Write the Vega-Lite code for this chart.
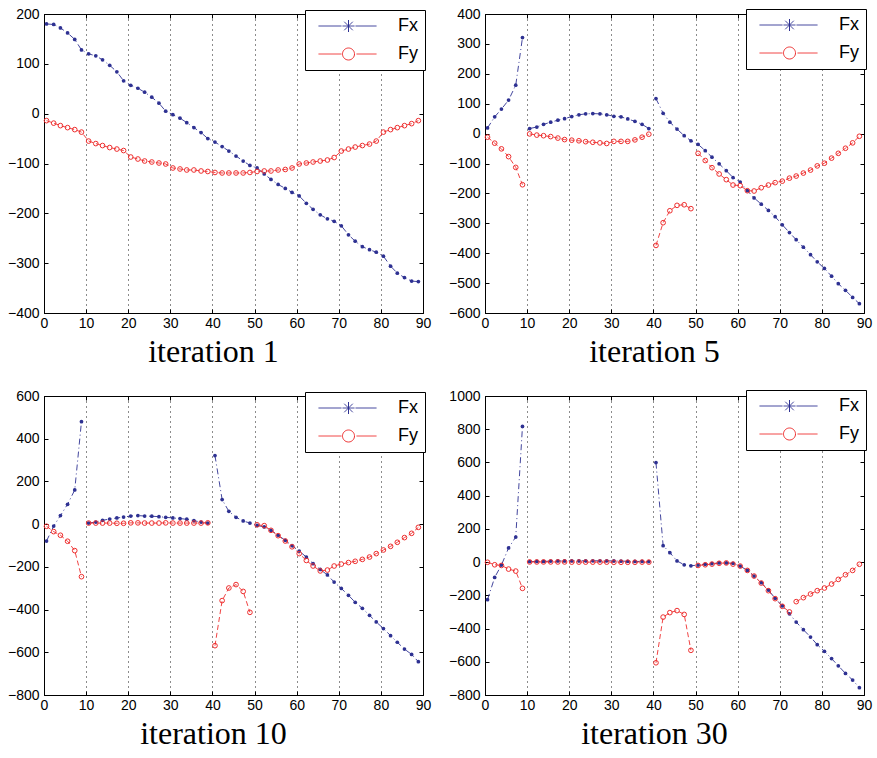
{
"$schema":"https://vega.github.io/schema/vega-lite/v6.json",
"padding":{"left":6,"top":6,"right":5,"bottom":5},
"spacing":{"column":15,"row":19},
"columns":2,
"config":{
"view":{"stroke":"black","strokeWidth":1},
"font":"Liberation Sans",
"axis":{"labelFont":"Liberation Sans","labelFontSize":14,"labelColor":"black","domainColor":"black","tickColor":"black","tickSize":-4,"labelPadding":9,"grid":false,"labelFlush":false,"labelOverlap":false},
"axisX":{"labelPadding":7},
"title":{"font":"Liberation Serif","fontSize":32,"fontWeight":"normal","orient":"bottom","anchor":"middle","dx":-20,"offset":7,"color":"black"}
},
"resolve":{"scale":{"color":"independent"},"legend":{"color":"independent"}},
"datasets":{
"it1":[
{"x":0.6,"y":180,"s":"Fx","g":1},{"x":2.3,"y":179,"s":"Fx","g":1},{"x":3.9,"y":172,"s":"Fx","g":1},{"x":5.6,"y":162,"s":"Fx","g":1},{"x":7.3,"y":149,"s":"Fx","g":1},{"x":8.9,"y":128,"s":"Fx","g":1},{"x":10.6,"y":120,"s":"Fx","g":1},{"x":12.3,"y":116,"s":"Fx","g":1},{"x":13.9,"y":108,"s":"Fx","g":1},{"x":15.6,"y":97,"s":"Fx","g":1},{"x":17.3,"y":84,"s":"Fx","g":1},{"x":18.9,"y":66,"s":"Fx","g":1},{"x":20.6,"y":57,"s":"Fx","g":1},{"x":22.3,"y":51,"s":"Fx","g":1},{"x":23.9,"y":43,"s":"Fx","g":1},{"x":25.6,"y":33,"s":"Fx","g":1},{"x":27.3,"y":21,"s":"Fx","g":1},{"x":28.9,"y":5,"s":"Fx","g":1},{"x":30.6,"y":-2,"s":"Fx","g":1},{"x":32.3,"y":-9,"s":"Fx","g":1},{"x":33.9,"y":-18,"s":"Fx","g":1},{"x":35.6,"y":-28,"s":"Fx","g":1},{"x":37.3,"y":-38,"s":"Fx","g":1},{"x":38.9,"y":-50,"s":"Fx","g":1},{"x":40.6,"y":-57,"s":"Fx","g":1},{"x":42.3,"y":-66,"s":"Fx","g":1},{"x":43.9,"y":-75,"s":"Fx","g":1},{"x":45.6,"y":-85,"s":"Fx","g":1},{"x":47.3,"y":-95,"s":"Fx","g":1},{"x":48.9,"y":-104,"s":"Fx","g":1},{"x":50.6,"y":-109,"s":"Fx","g":1},{"x":52.3,"y":-121,"s":"Fx","g":1},{"x":53.9,"y":-132,"s":"Fx","g":1},{"x":55.6,"y":-142,"s":"Fx","g":1},{"x":57.3,"y":-150,"s":"Fx","g":1},{"x":58.9,"y":-158,"s":"Fx","g":1},{"x":60.6,"y":-165,"s":"Fx","g":1},{"x":62.3,"y":-180,"s":"Fx","g":1},{"x":63.9,"y":-192,"s":"Fx","g":1},{"x":65.6,"y":-203,"s":"Fx","g":1},{"x":67.3,"y":-211,"s":"Fx","g":1},{"x":68.9,"y":-216,"s":"Fx","g":1},{"x":70.6,"y":-225,"s":"Fx","g":1},{"x":72.3,"y":-243,"s":"Fx","g":1},{"x":73.9,"y":-256,"s":"Fx","g":1},{"x":75.6,"y":-267,"s":"Fx","g":1},{"x":77.3,"y":-273,"s":"Fx","g":1},{"x":78.9,"y":-278,"s":"Fx","g":1},{"x":80.6,"y":-286,"s":"Fx","g":1},{"x":82.3,"y":-306,"s":"Fx","g":1},{"x":83.9,"y":-320,"s":"Fx","g":1},{"x":85.6,"y":-329,"s":"Fx","g":1},{"x":87.3,"y":-336,"s":"Fx","g":1},{"x":88.9,"y":-337,"s":"Fx","g":1},
{"x":0.6,"y":-14,"s":"Fy","g":1},{"x":2.3,"y":-19,"s":"Fy","g":1},{"x":3.9,"y":-24,"s":"Fy","g":1},{"x":5.6,"y":-28,"s":"Fy","g":1},{"x":7.3,"y":-32,"s":"Fy","g":1},{"x":8.9,"y":-37,"s":"Fy","g":1},{"x":10.6,"y":-55,"s":"Fy","g":1},{"x":12.3,"y":-60,"s":"Fy","g":1},{"x":13.9,"y":-64,"s":"Fy","g":1},{"x":15.6,"y":-68,"s":"Fy","g":1},{"x":17.3,"y":-71,"s":"Fy","g":1},{"x":18.9,"y":-74,"s":"Fy","g":1},{"x":20.6,"y":-87,"s":"Fy","g":1},{"x":22.3,"y":-91,"s":"Fy","g":1},{"x":23.9,"y":-95,"s":"Fy","g":1},{"x":25.6,"y":-97,"s":"Fy","g":1},{"x":27.3,"y":-99,"s":"Fy","g":1},{"x":28.9,"y":-101,"s":"Fy","g":1},{"x":30.6,"y":-109,"s":"Fy","g":1},{"x":32.3,"y":-111,"s":"Fy","g":1},{"x":33.9,"y":-113,"s":"Fy","g":1},{"x":35.6,"y":-113,"s":"Fy","g":1},{"x":37.3,"y":-115,"s":"Fy","g":1},{"x":38.9,"y":-116,"s":"Fy","g":1},{"x":40.6,"y":-118,"s":"Fy","g":1},{"x":42.3,"y":-119,"s":"Fy","g":1},{"x":43.9,"y":-119,"s":"Fy","g":1},{"x":45.6,"y":-119,"s":"Fy","g":1},{"x":47.3,"y":-119,"s":"Fy","g":1},{"x":48.9,"y":-118,"s":"Fy","g":1},{"x":50.6,"y":-116,"s":"Fy","g":1},{"x":52.3,"y":-115,"s":"Fy","g":1},{"x":53.9,"y":-115,"s":"Fy","g":1},{"x":55.6,"y":-113,"s":"Fy","g":1},{"x":57.3,"y":-112,"s":"Fy","g":1},{"x":58.9,"y":-109,"s":"Fy","g":1},{"x":60.6,"y":-101,"s":"Fy","g":1},{"x":62.3,"y":-99,"s":"Fy","g":1},{"x":63.9,"y":-97,"s":"Fy","g":1},{"x":65.6,"y":-95,"s":"Fy","g":1},{"x":67.3,"y":-93,"s":"Fy","g":1},{"x":68.9,"y":-88,"s":"Fy","g":1},{"x":70.6,"y":-75,"s":"Fy","g":1},{"x":72.3,"y":-71,"s":"Fy","g":1},{"x":73.9,"y":-67,"s":"Fy","g":1},{"x":75.6,"y":-64,"s":"Fy","g":1},{"x":77.3,"y":-61,"s":"Fy","g":1},{"x":78.9,"y":-55,"s":"Fy","g":1},{"x":80.6,"y":-37,"s":"Fy","g":1},{"x":82.3,"y":-32,"s":"Fy","g":1},{"x":83.9,"y":-28,"s":"Fy","g":1},{"x":85.6,"y":-24,"s":"Fy","g":1},{"x":87.3,"y":-20,"s":"Fy","g":1},{"x":88.9,"y":-14,"s":"Fy","g":1}
],
"it5":[
{"x":0.6,"y":19,"s":"Fx","g":1},{"x":2.3,"y":56,"s":"Fx","g":1},{"x":3.9,"y":82,"s":"Fx","g":1},{"x":5.6,"y":112,"s":"Fx","g":1},{"x":7.3,"y":162,"s":"Fx","g":1},{"x":8.9,"y":321,"s":"Fx","g":1},
{"x":10.6,"y":17,"s":"Fx","g":2},{"x":12.3,"y":22,"s":"Fx","g":2},{"x":13.9,"y":31,"s":"Fx","g":2},{"x":15.6,"y":38,"s":"Fx","g":2},{"x":17.3,"y":45,"s":"Fx","g":2},{"x":18.9,"y":50,"s":"Fx","g":2},{"x":20.6,"y":57,"s":"Fx","g":2},{"x":22.3,"y":63,"s":"Fx","g":2},{"x":23.9,"y":66,"s":"Fx","g":2},{"x":25.6,"y":67,"s":"Fx","g":2},{"x":27.3,"y":66,"s":"Fx","g":2},{"x":28.9,"y":63,"s":"Fx","g":2},{"x":30.6,"y":58,"s":"Fx","g":2},{"x":32.3,"y":56,"s":"Fx","g":2},{"x":33.9,"y":49,"s":"Fx","g":2},{"x":35.6,"y":41,"s":"Fx","g":2},{"x":37.3,"y":31,"s":"Fx","g":2},{"x":38.9,"y":17,"s":"Fx","g":2},
{"x":40.6,"y":117,"s":"Fx","g":3},{"x":42.3,"y":68,"s":"Fx","g":3},{"x":43.9,"y":38,"s":"Fx","g":3},{"x":45.6,"y":15,"s":"Fx","g":3},{"x":47.3,"y":-7,"s":"Fx","g":3},{"x":48.9,"y":-24,"s":"Fx","g":3},{"x":50.6,"y":-36,"s":"Fx","g":3},{"x":52.3,"y":-57,"s":"Fx","g":3},{"x":53.9,"y":-79,"s":"Fx","g":3},{"x":55.6,"y":-101,"s":"Fx","g":3},{"x":57.3,"y":-124,"s":"Fx","g":3},{"x":58.9,"y":-147,"s":"Fx","g":3},{"x":60.6,"y":-162,"s":"Fx","g":3},{"x":62.3,"y":-191,"s":"Fx","g":3},{"x":63.9,"y":-215,"s":"Fx","g":3},{"x":65.6,"y":-236,"s":"Fx","g":3},{"x":67.3,"y":-257,"s":"Fx","g":3},{"x":68.9,"y":-278,"s":"Fx","g":3},{"x":70.6,"y":-305,"s":"Fx","g":3},{"x":72.3,"y":-331,"s":"Fx","g":3},{"x":73.9,"y":-355,"s":"Fx","g":3},{"x":75.6,"y":-380,"s":"Fx","g":3},{"x":77.3,"y":-405,"s":"Fx","g":3},{"x":78.9,"y":-429,"s":"Fx","g":3},{"x":80.6,"y":-451,"s":"Fx","g":3},{"x":82.3,"y":-477,"s":"Fx","g":3},{"x":83.9,"y":-502,"s":"Fx","g":3},{"x":85.6,"y":-524,"s":"Fx","g":3},{"x":87.3,"y":-548,"s":"Fx","g":3},{"x":88.9,"y":-569,"s":"Fx","g":3},
{"x":0.6,"y":-12,"s":"Fy","g":1},{"x":2.3,"y":-32,"s":"Fy","g":1},{"x":3.9,"y":-51,"s":"Fy","g":1},{"x":5.6,"y":-77,"s":"Fy","g":1},{"x":7.3,"y":-113,"s":"Fy","g":1},{"x":8.9,"y":-171,"s":"Fy","g":1},
{"x":10.6,"y":-1,"s":"Fy","g":2},{"x":12.3,"y":-5,"s":"Fy","g":2},{"x":13.9,"y":-7,"s":"Fy","g":2},{"x":15.6,"y":-10,"s":"Fy","g":2},{"x":17.3,"y":-15,"s":"Fy","g":2},{"x":18.9,"y":-20,"s":"Fy","g":2},{"x":20.6,"y":-22,"s":"Fy","g":2},{"x":22.3,"y":-24,"s":"Fy","g":2},{"x":23.9,"y":-27,"s":"Fy","g":2},{"x":25.6,"y":-29,"s":"Fy","g":2},{"x":27.3,"y":-31,"s":"Fy","g":2},{"x":28.9,"y":-33,"s":"Fy","g":2},{"x":30.6,"y":-26,"s":"Fy","g":2},{"x":32.3,"y":-26,"s":"Fy","g":2},{"x":33.9,"y":-26,"s":"Fy","g":2},{"x":35.6,"y":-21,"s":"Fy","g":2},{"x":37.3,"y":-12,"s":"Fy","g":2},{"x":38.9,"y":-2,"s":"Fy","g":2},
{"x":40.6,"y":-374,"s":"Fy","g":3},{"x":42.3,"y":-298,"s":"Fy","g":3},{"x":43.9,"y":-258,"s":"Fy","g":3},{"x":45.6,"y":-240,"s":"Fy","g":3},{"x":47.3,"y":-238,"s":"Fy","g":3},{"x":48.9,"y":-251,"s":"Fy","g":3},
{"x":50.6,"y":-66,"s":"Fy","g":4},{"x":52.3,"y":-90,"s":"Fy","g":4},{"x":53.9,"y":-114,"s":"Fy","g":4},{"x":55.6,"y":-135,"s":"Fy","g":4},{"x":57.3,"y":-154,"s":"Fy","g":4},{"x":58.9,"y":-172,"s":"Fy","g":4},{"x":60.6,"y":-174,"s":"Fy","g":4},{"x":62.3,"y":-191,"s":"Fy","g":4},{"x":63.9,"y":-192,"s":"Fy","g":4},{"x":65.6,"y":-181,"s":"Fy","g":4},{"x":67.3,"y":-172,"s":"Fy","g":4},{"x":68.9,"y":-164,"s":"Fy","g":4},{"x":70.6,"y":-159,"s":"Fy","g":4},{"x":72.3,"y":-149,"s":"Fy","g":4},{"x":73.9,"y":-142,"s":"Fy","g":4},{"x":75.6,"y":-132,"s":"Fy","g":4},{"x":77.3,"y":-122,"s":"Fy","g":4},{"x":78.9,"y":-108,"s":"Fy","g":4},{"x":80.6,"y":-99,"s":"Fy","g":4},{"x":82.3,"y":-82,"s":"Fy","g":4},{"x":83.9,"y":-66,"s":"Fy","g":4},{"x":85.6,"y":-49,"s":"Fy","g":4},{"x":87.3,"y":-31,"s":"Fy","g":4},{"x":88.9,"y":-9,"s":"Fy","g":4}
],
"it10":[
{"x":0.6,"y":-79,"s":"Fx","g":1},{"x":2.3,"y":-9,"s":"Fx","g":1},{"x":3.9,"y":40,"s":"Fx","g":1},{"x":5.6,"y":93,"s":"Fx","g":1},{"x":7.3,"y":160,"s":"Fx","g":1},{"x":8.9,"y":480,"s":"Fx","g":1},
{"x":10.6,"y":5,"s":"Fx","g":2},{"x":12.3,"y":10,"s":"Fx","g":2},{"x":13.9,"y":18,"s":"Fx","g":2},{"x":15.6,"y":24,"s":"Fx","g":2},{"x":17.3,"y":29,"s":"Fx","g":2},{"x":18.9,"y":33,"s":"Fx","g":2},{"x":20.6,"y":38,"s":"Fx","g":2},{"x":22.3,"y":40,"s":"Fx","g":2},{"x":23.9,"y":38,"s":"Fx","g":2},{"x":25.6,"y":37,"s":"Fx","g":2},{"x":27.3,"y":35,"s":"Fx","g":2},{"x":28.9,"y":32,"s":"Fx","g":2},{"x":30.6,"y":29,"s":"Fx","g":2},{"x":32.3,"y":26,"s":"Fx","g":2},{"x":33.9,"y":23,"s":"Fx","g":2},{"x":35.6,"y":16,"s":"Fx","g":2},{"x":37.3,"y":10,"s":"Fx","g":2},{"x":38.9,"y":5,"s":"Fx","g":2},
{"x":40.6,"y":321,"s":"Fx","g":3},{"x":42.3,"y":115,"s":"Fx","g":3},{"x":43.9,"y":60,"s":"Fx","g":3},{"x":45.6,"y":32,"s":"Fx","g":3},{"x":47.3,"y":15,"s":"Fx","g":3},{"x":48.9,"y":5,"s":"Fx","g":3},{"x":50.6,"y":-6,"s":"Fx","g":3},{"x":52.3,"y":-13,"s":"Fx","g":3},{"x":53.9,"y":-29,"s":"Fx","g":3},{"x":55.6,"y":-52,"s":"Fx","g":3},{"x":57.3,"y":-76,"s":"Fx","g":3},{"x":58.9,"y":-101,"s":"Fx","g":3},{"x":60.6,"y":-126,"s":"Fx","g":3},{"x":62.3,"y":-154,"s":"Fx","g":3},{"x":63.9,"y":-185,"s":"Fx","g":3},{"x":65.6,"y":-212,"s":"Fx","g":3},{"x":67.3,"y":-238,"s":"Fx","g":3},{"x":68.9,"y":-271,"s":"Fx","g":3},{"x":70.6,"y":-301,"s":"Fx","g":3},{"x":72.3,"y":-333,"s":"Fx","g":3},{"x":73.9,"y":-366,"s":"Fx","g":3},{"x":75.6,"y":-394,"s":"Fx","g":3},{"x":77.3,"y":-427,"s":"Fx","g":3},{"x":78.9,"y":-458,"s":"Fx","g":3},{"x":80.6,"y":-489,"s":"Fx","g":3},{"x":82.3,"y":-522,"s":"Fx","g":3},{"x":83.9,"y":-553,"s":"Fx","g":3},{"x":85.6,"y":-585,"s":"Fx","g":3},{"x":87.3,"y":-610,"s":"Fx","g":3},{"x":88.9,"y":-644,"s":"Fx","g":3},
{"x":0.6,"y":-10,"s":"Fy","g":1},{"x":2.3,"y":-35,"s":"Fy","g":1},{"x":3.9,"y":-52,"s":"Fy","g":1},{"x":5.6,"y":-80,"s":"Fy","g":1},{"x":7.3,"y":-124,"s":"Fy","g":1},{"x":8.9,"y":-246,"s":"Fy","g":1},
{"x":10.6,"y":5,"s":"Fy","g":2},{"x":12.3,"y":5,"s":"Fy","g":2},{"x":13.9,"y":5,"s":"Fy","g":2},{"x":15.6,"y":5,"s":"Fy","g":2},{"x":17.3,"y":4,"s":"Fy","g":2},{"x":18.9,"y":4,"s":"Fy","g":2},{"x":20.6,"y":6,"s":"Fy","g":2},{"x":22.3,"y":6,"s":"Fy","g":2},{"x":23.9,"y":5,"s":"Fy","g":2},{"x":25.6,"y":5,"s":"Fy","g":2},{"x":27.3,"y":5,"s":"Fy","g":2},{"x":28.9,"y":6,"s":"Fy","g":2},{"x":30.6,"y":5,"s":"Fy","g":2},{"x":32.3,"y":5,"s":"Fy","g":2},{"x":33.9,"y":5,"s":"Fy","g":2},{"x":35.6,"y":5,"s":"Fy","g":2},{"x":37.3,"y":5,"s":"Fy","g":2},{"x":38.9,"y":6,"s":"Fy","g":2},
{"x":40.6,"y":-569,"s":"Fy","g":3},{"x":42.3,"y":-358,"s":"Fy","g":3},{"x":43.9,"y":-299,"s":"Fy","g":3},{"x":45.6,"y":-283,"s":"Fy","g":3},{"x":47.3,"y":-315,"s":"Fy","g":3},{"x":48.9,"y":-413,"s":"Fy","g":3},
{"x":50.6,"y":-3,"s":"Fy","g":4},{"x":52.3,"y":-7,"s":"Fy","g":4},{"x":53.9,"y":-29,"s":"Fy","g":4},{"x":55.6,"y":-54,"s":"Fy","g":4},{"x":57.3,"y":-79,"s":"Fy","g":4},{"x":58.9,"y":-106,"s":"Fy","g":4},{"x":60.6,"y":-138,"s":"Fy","g":4},{"x":62.3,"y":-170,"s":"Fy","g":4},{"x":63.9,"y":-196,"s":"Fy","g":4},{"x":65.6,"y":-219,"s":"Fy","g":4},{"x":67.3,"y":-215,"s":"Fy","g":4},{"x":68.9,"y":-196,"s":"Fy","g":4},{"x":70.6,"y":-187,"s":"Fy","g":4},{"x":72.3,"y":-180,"s":"Fy","g":4},{"x":73.9,"y":-174,"s":"Fy","g":4},{"x":75.6,"y":-165,"s":"Fy","g":4},{"x":77.3,"y":-154,"s":"Fy","g":4},{"x":78.9,"y":-138,"s":"Fy","g":4},{"x":80.6,"y":-121,"s":"Fy","g":4},{"x":82.3,"y":-104,"s":"Fy","g":4},{"x":83.9,"y":-85,"s":"Fy","g":4},{"x":85.6,"y":-63,"s":"Fy","g":4},{"x":87.3,"y":-43,"s":"Fy","g":4},{"x":88.9,"y":-15,"s":"Fy","g":4}
],
"it30":[
{"x":0.6,"y":-226,"s":"Fx","g":1},{"x":2.3,"y":-92,"s":"Fx","g":1},{"x":3.9,"y":-18,"s":"Fx","g":1},{"x":5.6,"y":85,"s":"Fx","g":1},{"x":7.3,"y":151,"s":"Fx","g":1},{"x":8.9,"y":817,"s":"Fx","g":1},
{"x":10.6,"y":3,"s":"Fx","g":2},{"x":12.3,"y":4,"s":"Fx","g":2},{"x":13.9,"y":4,"s":"Fx","g":2},{"x":15.6,"y":6,"s":"Fx","g":2},{"x":17.3,"y":7,"s":"Fx","g":2},{"x":18.9,"y":7,"s":"Fx","g":2},{"x":20.6,"y":8,"s":"Fx","g":2},{"x":22.3,"y":8,"s":"Fx","g":2},{"x":23.9,"y":8,"s":"Fx","g":2},{"x":25.6,"y":8,"s":"Fx","g":2},{"x":27.3,"y":8,"s":"Fx","g":2},{"x":28.9,"y":8,"s":"Fx","g":2},{"x":30.6,"y":7,"s":"Fx","g":2},{"x":32.3,"y":6,"s":"Fx","g":2},{"x":33.9,"y":5,"s":"Fx","g":2},{"x":35.6,"y":4,"s":"Fx","g":2},{"x":37.3,"y":4,"s":"Fx","g":2},{"x":38.9,"y":3,"s":"Fx","g":2},
{"x":40.6,"y":599,"s":"Fx","g":3},{"x":42.3,"y":99,"s":"Fx","g":3},{"x":43.9,"y":57,"s":"Fx","g":3},{"x":45.6,"y":7,"s":"Fx","g":3},{"x":47.3,"y":-16,"s":"Fx","g":3},{"x":48.9,"y":-22,"s":"Fx","g":3},{"x":50.6,"y":-18,"s":"Fx","g":3},{"x":52.3,"y":-13,"s":"Fx","g":3},{"x":53.9,"y":-9,"s":"Fx","g":3},{"x":55.6,"y":-5,"s":"Fx","g":3},{"x":57.3,"y":-5,"s":"Fx","g":3},{"x":58.9,"y":-7,"s":"Fx","g":3},{"x":60.6,"y":-24,"s":"Fx","g":3},{"x":62.3,"y":-50,"s":"Fx","g":3},{"x":63.9,"y":-84,"s":"Fx","g":3},{"x":65.6,"y":-124,"s":"Fx","g":3},{"x":67.3,"y":-168,"s":"Fx","g":3},{"x":68.9,"y":-218,"s":"Fx","g":3},{"x":70.6,"y":-264,"s":"Fx","g":3},{"x":72.3,"y":-311,"s":"Fx","g":3},{"x":73.9,"y":-361,"s":"Fx","g":3},{"x":75.6,"y":-407,"s":"Fx","g":3},{"x":77.3,"y":-451,"s":"Fx","g":3},{"x":78.9,"y":-497,"s":"Fx","g":3},{"x":80.6,"y":-537,"s":"Fx","g":3},{"x":82.3,"y":-581,"s":"Fx","g":3},{"x":83.9,"y":-624,"s":"Fx","g":3},{"x":85.6,"y":-670,"s":"Fx","g":3},{"x":87.3,"y":-710,"s":"Fx","g":3},{"x":88.9,"y":-756,"s":"Fx","g":3},
{"x":0.6,"y":-1,"s":"Fy","g":1},{"x":2.3,"y":-16,"s":"Fy","g":1},{"x":3.9,"y":-20,"s":"Fy","g":1},{"x":5.6,"y":-42,"s":"Fy","g":1},{"x":7.3,"y":-54,"s":"Fy","g":1},{"x":8.9,"y":-158,"s":"Fy","g":1},
{"x":10.6,"y":1,"s":"Fy","g":2},{"x":12.3,"y":1,"s":"Fy","g":2},{"x":13.9,"y":1,"s":"Fy","g":2},{"x":15.6,"y":1,"s":"Fy","g":2},{"x":17.3,"y":1,"s":"Fy","g":2},{"x":18.9,"y":1,"s":"Fy","g":2},{"x":20.6,"y":0,"s":"Fy","g":2},{"x":22.3,"y":0,"s":"Fy","g":2},{"x":23.9,"y":0,"s":"Fy","g":2},{"x":25.6,"y":0,"s":"Fy","g":2},{"x":27.3,"y":0,"s":"Fy","g":2},{"x":28.9,"y":0,"s":"Fy","g":2},{"x":30.6,"y":-1,"s":"Fy","g":2},{"x":32.3,"y":-1,"s":"Fy","g":2},{"x":33.9,"y":-1,"s":"Fy","g":2},{"x":35.6,"y":-1,"s":"Fy","g":2},{"x":37.3,"y":0,"s":"Fy","g":2},{"x":38.9,"y":0,"s":"Fy","g":2},
{"x":40.6,"y":-606,"s":"Fy","g":3},{"x":42.3,"y":-331,"s":"Fy","g":3},{"x":43.9,"y":-304,"s":"Fy","g":3},{"x":45.6,"y":-292,"s":"Fy","g":3},{"x":47.3,"y":-315,"s":"Fy","g":3},{"x":48.9,"y":-531,"s":"Fy","g":3},
{"x":50.6,"y":-20,"s":"Fy","g":4},{"x":52.3,"y":-16,"s":"Fy","g":4},{"x":53.9,"y":-12,"s":"Fy","g":4},{"x":55.6,"y":-7,"s":"Fy","g":4},{"x":57.3,"y":-5,"s":"Fy","g":4},{"x":58.9,"y":-12,"s":"Fy","g":4},{"x":60.6,"y":-24,"s":"Fy","g":4},{"x":62.3,"y":-50,"s":"Fy","g":4},{"x":63.9,"y":-84,"s":"Fy","g":4},{"x":65.6,"y":-126,"s":"Fy","g":4},{"x":67.3,"y":-172,"s":"Fy","g":4},{"x":68.9,"y":-220,"s":"Fy","g":4},{"x":70.6,"y":-266,"s":"Fy","g":4},{"x":72.3,"y":-300,"s":"Fy","g":4},
{"x":73.9,"y":-238,"s":"Fy","g":5},{"x":75.6,"y":-214,"s":"Fy","g":5},{"x":77.3,"y":-192,"s":"Fy","g":5},{"x":78.9,"y":-172,"s":"Fy","g":5},{"x":80.6,"y":-156,"s":"Fy","g":5},{"x":82.3,"y":-132,"s":"Fy","g":5},{"x":83.9,"y":-104,"s":"Fy","g":5},{"x":85.6,"y":-76,"s":"Fy","g":5},{"x":87.3,"y":-50,"s":"Fy","g":5},{"x":88.9,"y":-13,"s":"Fy","g":5}
]
},
"concat":[
{"width":379,"height":299,"data":{"name":"it1"},"title":{"text":"iteration 1"},
"layer":[
{"transform":[{"filter":"datum.s === 'Fx'"}],"mark":{"type":"line","strokeWidth":0.9,"strokeDash":[6,3,1,3]},"encoding":{
"x":{"field":"x","type":"quantitative","scale":{"domain":[0,90],"nice":false,"zero":false},"axis":{"orient":"bottom","values":[0,10,20,30,40,50,60,70,80,90],"grid":true,"gridColor":"black","gridDash":[1,4],"gridOpacity":0.9,"title":null}},
"y":{"field":"y","type":"quantitative","scale":{"domain":[-400,200],"nice":false,"zero":false},"axis":{"orient":"left","format":"d","values":[-400,-300,-200,-100,0,100,200],"title":null}},
"detail":{"field":"g","type":"nominal"},
"color":{"field":"s","type":"nominal","scale":{"domain":["Fx","Fy"],"range":["#2e3192","#ee2e2e"]},
"legend":{"title":null,"orient":"none","legendX":261,"legendY":-4,"direction":"vertical","strokeColor":"black","fillColor":"white","padding":7,"labelFont":"Liberation Sans","labelFontSize":18,"labelColor":"black","labelOffset":68,"rowPadding":10,"symbolSize":100,"symbolStrokeWidth":1,"labelExpr":"datum.label + '\u00a0\u00a0'",
"encode":{"symbols":{"update":{"shape":{"signal":"datum.value === 'Fx' ? 'M-0.5,0H4.1M6.9,0H11.1M4.3,0H6.7M5.5,-1.2V1.2M4.65,-0.85L6.35,0.85M4.65,0.85L6.35,-0.85' : 'M-0.5,0H4.1M7.1,0H11.1M6.7,0A1.2,1.2 0 1,1 4.3,0A1.2,1.2 0 1,1 6.7,0'"},"fill":{"value":"transparent"},"strokeDash":{"value":[1,0]},"strokeWidth":{"value":1},"size":{"value":100},"opacity":{"value":1}}}}}}}},
{"transform":[{"filter":"datum.s === 'Fy'"}],"mark":{"type":"line","strokeWidth":0.9,"strokeDash":[5,3]},"encoding":{
"x":{"field":"x","type":"quantitative","axis":null},"y":{"field":"y","type":"quantitative","axis":null},
"detail":{"field":"g","type":"nominal"},"color":{"field":"s","type":"nominal"}}},
{"transform":[{"filter":"datum.s === 'Fx'"}],"mark":{"type":"point","shape":"circle","filled":true,"size":14,"opacity":1,"color":"#2e3192"},"encoding":{
"x":{"field":"x","type":"quantitative","axis":{"orient":"top","labels":false,"domain":false,"values":[0,10,20,30,40,50,60,70,80,90],"title":null}},
"y":{"field":"y","type":"quantitative","axis":{"orient":"right","labels":false,"domain":false,"values":[-400,-300,-200,-100,0,100,200],"title":null}}}},
{"transform":[{"filter":"datum.s === 'Fy'"}],"mark":{"type":"point","shape":"circle","filled":false,"size":22,"strokeWidth":1,"opacity":1},"encoding":{
"x":{"field":"x","type":"quantitative","axis":null},"y":{"field":"y","type":"quantitative","axis":null},
"color":{"field":"s","type":"nominal"}}}
],
"resolve":{"axis":{"x":"independent","y":"independent"}}},

{"width":379,"height":299,"data":{"name":"it5"},"title":{"text":"iteration 5"},
"layer":[
{"transform":[{"filter":"datum.s === 'Fx'"}],"mark":{"type":"line","strokeWidth":0.9,"strokeDash":[6,3,1,3]},"encoding":{
"x":{"field":"x","type":"quantitative","scale":{"domain":[0,90],"nice":false,"zero":false},"axis":{"orient":"bottom","values":[0,10,20,30,40,50,60,70,80,90],"grid":true,"gridColor":"black","gridDash":[1,4],"gridOpacity":0.9,"title":null}},
"y":{"field":"y","type":"quantitative","scale":{"domain":[-600,400],"nice":false,"zero":false},"axis":{"orient":"left","format":"d","values":[-600,-500,-400,-300,-200,-100,0,100,200,300,400],"title":null}},
"detail":{"field":"g","type":"nominal"},
"color":{"field":"s","type":"nominal","scale":{"domain":["Fx","Fy"],"range":["#2e3192","#ee2e2e"]},
"legend":{"title":null,"orient":"none","legendX":261,"legendY":-5,"direction":"vertical","strokeColor":"black","fillColor":"white","padding":7,"labelFont":"Liberation Sans","labelFontSize":18,"labelColor":"black","labelOffset":68,"rowPadding":10,"symbolSize":100,"symbolStrokeWidth":1,"labelExpr":"datum.label + '\u00a0\u00a0'",
"encode":{"symbols":{"update":{"shape":{"signal":"datum.value === 'Fx' ? 'M-0.5,0H4.1M6.9,0H11.1M4.3,0H6.7M5.5,-1.2V1.2M4.65,-0.85L6.35,0.85M4.65,0.85L6.35,-0.85' : 'M-0.5,0H4.1M7.1,0H11.1M6.7,0A1.2,1.2 0 1,1 4.3,0A1.2,1.2 0 1,1 6.7,0'"},"fill":{"value":"transparent"},"strokeDash":{"value":[1,0]},"strokeWidth":{"value":1},"size":{"value":100},"opacity":{"value":1}}}}}}}},
{"transform":[{"filter":"datum.s === 'Fy'"}],"mark":{"type":"line","strokeWidth":0.9,"strokeDash":[5,3]},"encoding":{
"x":{"field":"x","type":"quantitative","axis":null},"y":{"field":"y","type":"quantitative","axis":null},
"detail":{"field":"g","type":"nominal"},"color":{"field":"s","type":"nominal"}}},
{"transform":[{"filter":"datum.s === 'Fx'"}],"mark":{"type":"point","shape":"circle","filled":true,"size":14,"opacity":1,"color":"#2e3192"},"encoding":{
"x":{"field":"x","type":"quantitative","axis":{"orient":"top","labels":false,"domain":false,"values":[0,10,20,30,40,50,60,70,80,90],"title":null}},
"y":{"field":"y","type":"quantitative","axis":{"orient":"right","labels":false,"domain":false,"values":[-600,-500,-400,-300,-200,-100,0,100,200,300,400],"title":null}}}},
{"transform":[{"filter":"datum.s === 'Fy'"}],"mark":{"type":"point","shape":"circle","filled":false,"size":22,"strokeWidth":1,"opacity":1},"encoding":{
"x":{"field":"x","type":"quantitative","axis":null},"y":{"field":"y","type":"quantitative","axis":null},
"color":{"field":"s","type":"nominal"}}}
],
"resolve":{"axis":{"x":"independent","y":"independent"}}},

{"width":379,"height":299,"data":{"name":"it10"},"title":{"text":"iteration 10"},
"layer":[
{"transform":[{"filter":"datum.s === 'Fx'"}],"mark":{"type":"line","strokeWidth":0.9,"strokeDash":[6,3,1,3]},"encoding":{
"x":{"field":"x","type":"quantitative","scale":{"domain":[0,90],"nice":false,"zero":false},"axis":{"orient":"bottom","values":[0,10,20,30,40,50,60,70,80,90],"grid":true,"gridColor":"black","gridDash":[1,4],"gridOpacity":0.9,"title":null}},
"y":{"field":"y","type":"quantitative","scale":{"domain":[-800,600],"nice":false,"zero":false},"axis":{"orient":"left","format":"d","values":[-800,-600,-400,-200,0,200,400,600],"title":null}},
"detail":{"field":"g","type":"nominal"},
"color":{"field":"s","type":"nominal","scale":{"domain":["Fx","Fy"],"range":["#2e3192","#ee2e2e"]},
"legend":{"title":null,"orient":"none","legendX":261,"legendY":-4,"direction":"vertical","strokeColor":"black","fillColor":"white","padding":7,"labelFont":"Liberation Sans","labelFontSize":18,"labelColor":"black","labelOffset":68,"rowPadding":10,"symbolSize":100,"symbolStrokeWidth":1,"labelExpr":"datum.label + '\u00a0\u00a0'",
"encode":{"symbols":{"update":{"shape":{"signal":"datum.value === 'Fx' ? 'M-0.5,0H4.1M6.9,0H11.1M4.3,0H6.7M5.5,-1.2V1.2M4.65,-0.85L6.35,0.85M4.65,0.85L6.35,-0.85' : 'M-0.5,0H4.1M7.1,0H11.1M6.7,0A1.2,1.2 0 1,1 4.3,0A1.2,1.2 0 1,1 6.7,0'"},"fill":{"value":"transparent"},"strokeDash":{"value":[1,0]},"strokeWidth":{"value":1},"size":{"value":100},"opacity":{"value":1}}}}}}}},
{"transform":[{"filter":"datum.s === 'Fy'"}],"mark":{"type":"line","strokeWidth":0.9,"strokeDash":[5,3]},"encoding":{
"x":{"field":"x","type":"quantitative","axis":null},"y":{"field":"y","type":"quantitative","axis":null},
"detail":{"field":"g","type":"nominal"},"color":{"field":"s","type":"nominal"}}},
{"transform":[{"filter":"datum.s === 'Fx'"}],"mark":{"type":"point","shape":"circle","filled":true,"size":14,"opacity":1,"color":"#2e3192"},"encoding":{
"x":{"field":"x","type":"quantitative","axis":{"orient":"top","labels":false,"domain":false,"values":[0,10,20,30,40,50,60,70,80,90],"title":null}},
"y":{"field":"y","type":"quantitative","axis":{"orient":"right","labels":false,"domain":false,"values":[-800,-600,-400,-200,0,200,400,600],"title":null}}}},
{"transform":[{"filter":"datum.s === 'Fy'"}],"mark":{"type":"point","shape":"circle","filled":false,"size":22,"strokeWidth":1,"opacity":1},"encoding":{
"x":{"field":"x","type":"quantitative","axis":null},"y":{"field":"y","type":"quantitative","axis":null},
"color":{"field":"s","type":"nominal"}}}
],
"resolve":{"axis":{"x":"independent","y":"independent"}}},

{"width":379,"height":299,"data":{"name":"it30"},"title":{"text":"iteration 30"},
"layer":[
{"transform":[{"filter":"datum.s === 'Fx'"}],"mark":{"type":"line","strokeWidth":0.9,"strokeDash":[6,3,1,3]},"encoding":{
"x":{"field":"x","type":"quantitative","scale":{"domain":[0,90],"nice":false,"zero":false},"axis":{"orient":"bottom","values":[0,10,20,30,40,50,60,70,80,90],"grid":true,"gridColor":"black","gridDash":[1,4],"gridOpacity":0.9,"title":null}},
"y":{"field":"y","type":"quantitative","scale":{"domain":[-800,1000],"nice":false,"zero":false},"axis":{"orient":"left","format":"d","values":[-800,-600,-400,-200,0,200,400,600,800,1000],"title":null}},
"detail":{"field":"g","type":"nominal"},
"color":{"field":"s","type":"nominal","scale":{"domain":["Fx","Fy"],"range":["#2e3192","#ee2e2e"]},
"legend":{"title":null,"orient":"none","legendX":261,"legendY":-6,"direction":"vertical","strokeColor":"black","fillColor":"white","padding":7,"labelFont":"Liberation Sans","labelFontSize":18,"labelColor":"black","labelOffset":68,"rowPadding":10,"symbolSize":100,"symbolStrokeWidth":1,"labelExpr":"datum.label + '\u00a0\u00a0'",
"encode":{"symbols":{"update":{"shape":{"signal":"datum.value === 'Fx' ? 'M-0.5,0H4.1M6.9,0H11.1M4.3,0H6.7M5.5,-1.2V1.2M4.65,-0.85L6.35,0.85M4.65,0.85L6.35,-0.85' : 'M-0.5,0H4.1M7.1,0H11.1M6.7,0A1.2,1.2 0 1,1 4.3,0A1.2,1.2 0 1,1 6.7,0'"},"fill":{"value":"transparent"},"strokeDash":{"value":[1,0]},"strokeWidth":{"value":1},"size":{"value":100},"opacity":{"value":1}}}}}}}},
{"transform":[{"filter":"datum.s === 'Fy'"}],"mark":{"type":"line","strokeWidth":0.9,"strokeDash":[5,3]},"encoding":{
"x":{"field":"x","type":"quantitative","axis":null},"y":{"field":"y","type":"quantitative","axis":null},
"detail":{"field":"g","type":"nominal"},"color":{"field":"s","type":"nominal"}}},
{"transform":[{"filter":"datum.s === 'Fx'"}],"mark":{"type":"point","shape":"circle","filled":true,"size":14,"opacity":1,"color":"#2e3192"},"encoding":{
"x":{"field":"x","type":"quantitative","axis":{"orient":"top","labels":false,"domain":false,"values":[0,10,20,30,40,50,60,70,80,90],"title":null}},
"y":{"field":"y","type":"quantitative","axis":{"orient":"right","labels":false,"domain":false,"values":[-800,-600,-400,-200,0,200,400,600,800,1000],"title":null}}}},
{"transform":[{"filter":"datum.s === 'Fy'"}],"mark":{"type":"point","shape":"circle","filled":false,"size":22,"strokeWidth":1,"opacity":1},"encoding":{
"x":{"field":"x","type":"quantitative","axis":null},"y":{"field":"y","type":"quantitative","axis":null},
"color":{"field":"s","type":"nominal"}}}
],
"resolve":{"axis":{"x":"independent","y":"independent"}}}
]
}
